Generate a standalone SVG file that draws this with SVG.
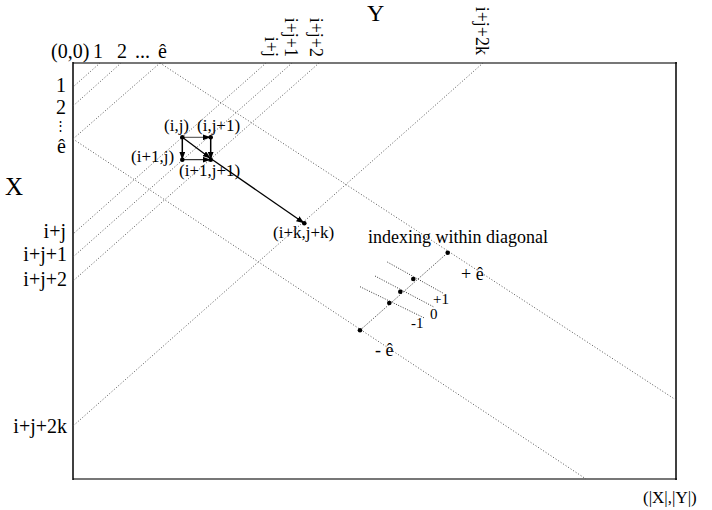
<svg xmlns="http://www.w3.org/2000/svg" width="712" height="510" viewBox="0 0 712 510">
<defs>
<style>
text{font-family:"Liberation Serif","Times New Roman",serif;fill:#000}
.ax{font-size:20px}
.lab{font-size:20px}
.nl{font-size:17px}
.rot{font-size:18px}
.sm{font-size:15px}
.dot{stroke:#555;stroke-width:1;stroke-dasharray:1 2;fill:none}
.dot2{stroke:#333;stroke-width:1;stroke-dasharray:1 1.5;fill:none}
.pt{fill:#000}
</style>
<marker id="ah" viewBox="0 0 8 6" refX="8" refY="3" markerWidth="8" markerHeight="6" markerUnits="userSpaceOnUse" orient="auto">
<path d="M0,0 L8,3 L0,6 z" fill="#000"/>
</marker>
</defs>
<rect width="712" height="510" fill="#fff"/>

<g id="frame">
<line x1="73" y1="63" x2="677" y2="63" stroke="#777" stroke-width="2"/>
<line x1="73" y1="479" x2="677" y2="479" stroke="#777" stroke-width="2"/>
<line x1="73" y1="62" x2="73" y2="480" stroke="#000" stroke-width="1.5"/>
<line x1="676" y1="62" x2="676" y2="480" stroke="#000" stroke-width="1.5"/>
</g>

<g id="labels">
<text x="367" y="21" style="font-size:24px">Y</text>
<text x="5" y="195" style="font-size:25px">X</text>
<text class="ax" x="51" y="58">(0,0)</text>
<text class="ax" x="93" y="58">1</text>
<text class="ax" x="117" y="58">2</text>
<text class="ax" x="135" y="58">...</text>
<text class="ax" x="158" y="58">ê</text>
<text class="lab" x="66" y="92" text-anchor="end">1</text>
<text class="lab" x="66" y="114" text-anchor="end">2</text>
<text x="60" y="130" text-anchor="middle" style="font-size:13px">⋮</text>
<text class="lab" x="66" y="153" text-anchor="end">ê</text>
<text class="lab" x="66" y="238" text-anchor="end">i+j</text>
<text class="lab" x="67" y="261" text-anchor="end">i+j+1</text>
<text class="lab" x="67" y="286" text-anchor="end">i+j+2</text>
<text class="lab" x="67" y="433" text-anchor="end">i+j+2k</text>
<text class="rot" transform="translate(265,57) rotate(90)" text-anchor="end">i+j</text>
<text class="rot" transform="translate(285,57) rotate(90)" text-anchor="end">i+j+1</text>
<text class="rot" transform="translate(310,57) rotate(90)" text-anchor="end">i+j+2</text>
<text class="rot" transform="translate(476,55) rotate(90)" text-anchor="end">i+j+2k</text>
<text class="nl" x="643" y="503">(|X|,|Y|)</text>
<text x="368" y="243" style="font-size:18px">indexing within diagonal</text>
<text class="sm" x="411" y="328">-1</text>
<text class="sm" x="430" y="319">0</text>
<text class="sm" x="433" y="304">+1</text>
<text x="461" y="280" style="font-size:18px">+ ê</text>
<text x="375" y="356" style="font-size:18px">- ê</text>
</g>

<g id="connectors">
<line class="dot" x1="100" y1="63" x2="73" y2="87"/>
<line class="dot" x1="121" y1="63" x2="73" y2="106"/>
<line class="dot" x1="160" y1="63" x2="73" y2="139"/>
<line class="dot" x1="266" y1="63" x2="73" y2="234"/>
<line class="dot" x1="292" y1="63" x2="73" y2="257"/>
<line class="dot" x1="319" y1="63" x2="73" y2="281"/>
<line class="dot" x1="483" y1="63" x2="73" y2="426"/>
<line class="dot" x1="160" y1="63" x2="676" y2="400"/>
<line class="dot" x1="73" y1="139" x2="586" y2="479"/>
<line class="dot2" x1="360" y1="330.3" x2="447.7" y2="252.7"/>
<line class="dot2" x1="360" y1="286.7" x2="425" y2="318.3"/>
<line class="dot2" x1="375" y1="276" x2="433.3" y2="306.7"/>
<line class="dot2" x1="387.3" y1="262" x2="443.3" y2="293.3"/>
<line x1="182.3" y1="137.3" x2="210.7" y2="137.3" stroke="#444" stroke-width="1" marker-end="url(#ah)"/>
<line x1="182.3" y1="159.7" x2="210.7" y2="159.7" stroke="#000" stroke-width="1" marker-end="url(#ah)"/>
<line x1="182.3" y1="137.3" x2="182.3" y2="159.7" stroke="#000" stroke-width="1.5" marker-end="url(#ah)"/>
<line x1="210.7" y1="137.3" x2="210.7" y2="159.7" stroke="#000" stroke-width="1.5" marker-end="url(#ah)"/>
<line x1="182.3" y1="137.3" x2="210.7" y2="158.5" stroke="#000" stroke-width="1.3" marker-end="url(#ah)"/>
<line x1="210.7" y1="158.5" x2="304.3" y2="223.3" stroke="#000" stroke-width="1.3" marker-end="url(#ah)"/>
</g>

<g id="node-ij"><circle class="pt" cx="182.3" cy="137.3" r="2.3"/><text class="nl" x="164" y="131">(i,j)</text></g>
<g id="node-ij1"><circle class="pt" cx="210.7" cy="137.3" r="2.3"/><text class="nl" x="197" y="131">(i,j+1)</text></g>
<g id="node-i1j"><circle class="pt" cx="182.3" cy="159.7" r="2.3"/><text class="nl" x="131" y="162">(i+1,j)</text></g>
<g id="node-i1j1"><circle class="pt" cx="210.7" cy="159.7" r="2.3"/><text class="nl" x="179" y="176">(i+1,j+1)</text></g>
<g id="node-ikjk"><circle class="pt" cx="304.3" cy="223.3" r="2.3"/><text class="nl" x="273" y="238">(i+k,j+k)</text></g>
<g id="idx-minus"><circle class="pt" cx="360" cy="330.3" r="2.3"/></g>
<g id="idx-m1"><circle class="pt" cx="389.3" cy="303" r="2.3"/></g>
<g id="idx-0"><circle class="pt" cx="400.3" cy="291.7" r="2.3"/></g>
<g id="idx-p1"><circle class="pt" cx="413.3" cy="279" r="2.3"/></g>
<g id="idx-plus"><circle class="pt" cx="447.7" cy="252.7" r="2.3"/></g>
</svg>
